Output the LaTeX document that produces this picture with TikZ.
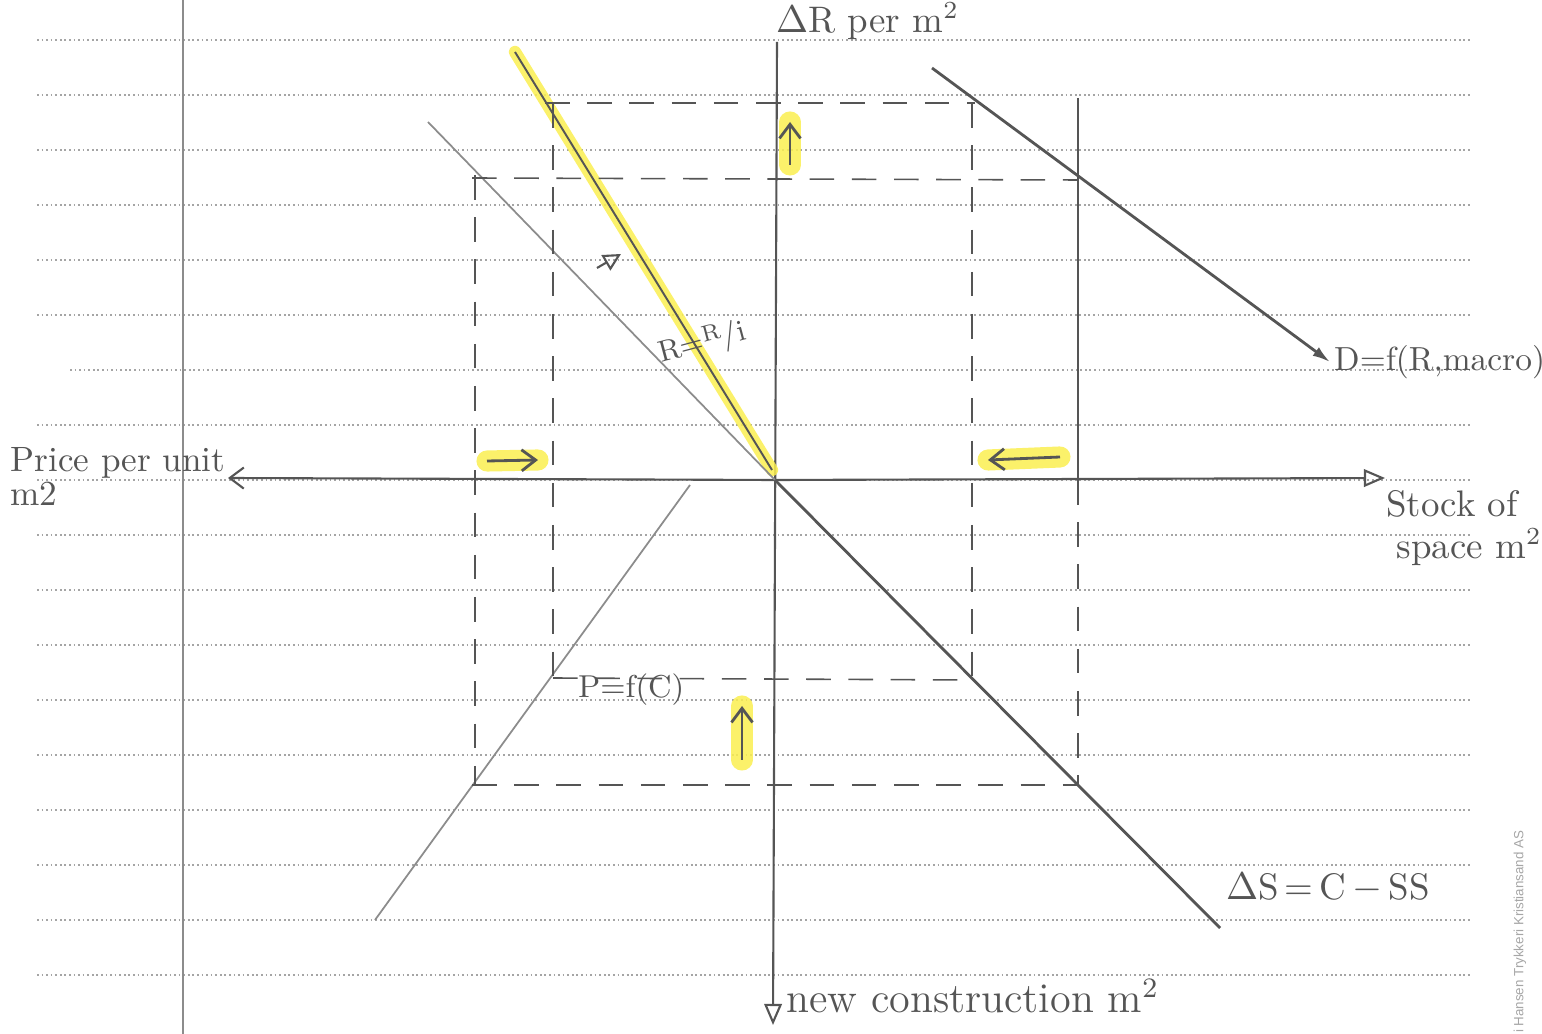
\documentclass[tikz,border=0pt]{standalone}
\usepackage{fontspec}
\newfontfamily\printfont{Liberation Sans}
\usetikzlibrary{arrows.meta}
\definecolor{pencil}{RGB}{85,85,85}
\definecolor{softpencil}{RGB}{140,140,140}
\definecolor{marker}{RGB}{250,238,80}
\definecolor{ruling}{RGB}{165,165,165}

\begin{document}
\begin{tikzpicture}[x=0.01cm, y=-0.01cm, >=Stealth,
    ruled/.style={ruling, line width=0.4pt, dash pattern=on 0.5pt off 0.8pt},
    axis/.style={pencil, line width=0.6pt},
    curve/.style={pencil, line width=0.8pt},
    faint/.style={softpencil, line width=0.5pt},
    guide/.style={pencil, line width=0.45pt, dash pattern=on 7pt off 5pt},
    glow/.style={marker, line width=3.5pt, line cap=round, opacity=0.85},
    hand/.style={pencil, font=\fontsize{10.5}{12}\selectfont, inner sep=1pt},
    shiftarrow/.style={pencil, line width=0.8pt, -{Straight Barb[length=4pt,width=6pt]}}]

    \useasboundingbox (0,0) rectangle (1542,1034);

    % Notebook paper
    \foreach \y in {40,95,150,205,260,315,425,480,535,590,645,700,755,810,865,920,975}
        \draw[ruled] (37,\y) -- (1470,\y);
    \draw[ruled] (70,370) -- (1470,370);
    \draw[softpencil, line width=0.5pt] (183,0) -- (183,1034);
    \node[rotate=90, anchor=east, inner sep=0pt, font=\printfont\fontsize{3.8}{4.5}\selectfont, black!35] (printer) at (1520,830) {i Hansen Trykkeri Kristiansand AS};

    % Axes
    \coordinate (o) at (775,480);
    \coordinate (ytop) at (777,42);
    \coordinate (ybot) at (773,1025);
    \coordinate (xleft) at (228,478);
    \coordinate (xright) at (1385,478);
    \draw[axis, -{Triangle[open, length=6pt, width=5pt]}] (ytop) -- (ybot);
    \draw[axis, -{Triangle[open, length=6pt, width=5pt]}] (o) -- (xright);
    \draw[axis, -{Straight Barb[length=4pt, width=6pt]}] (o) -- (xleft);

    \node[hand, font=\fontsize{10}{12}\selectfont, anchor=base west, inner sep=0pt] (pricelbl) at (10,472) {Price per unit};
    \node[hand, font=\fontsize{10}{12}\selectfont, anchor=base west, inner sep=0pt] (pricelbl2) at (10,506) {m2};
    \node[hand, anchor=south west] (rentlbl) at (772,44) {$\Delta$R per m$^2$};
    \node[hand, align=left, anchor=north west] (stocklbl) at (1382,486) {Stock of\\\hspace{3pt}space m$^2$};
    \node[hand, font=\fontsize{12}{14}\selectfont, anchor=west] (buildlbl) at (782,996) {new construction m$^2$};

    % Asset market: P = R/i
    \coordinate (pold) at (428,122);
    \coordinate (pnew) at (515,52);
    \coordinate (pnewend) at (772,470);
    \draw[glow] (pnew) -- (pnewend);
    \draw[faint] (pold) -- (o);
    \draw[curve, line width=0.55pt] (pnew) -- (pnewend);
    \node[hand, font=\fontsize{8.5}{10}\selectfont, rotate=15] (caplbl) at (702,343) {R=\raisebox{2.5pt}{\fontsize{6.5}{7}\selectfont R}/i};
    \coordinate (rota) at (597,268);
    \coordinate (rotb) at (621,254);
    \draw[pencil, line width=0.6pt, -{Triangle[open, length=5pt, width=5pt]}] (rota) -- (rotb);

    % Construction: P = f(C)
    \coordinate (cbot) at (375,920);
    \coordinate (ctop) at (690,485);
    \draw[faint] (cbot) -- (ctop);
    \node[hand, font=\fontsize{9}{11}\selectfont, anchor=west] (conlbl) at (574,690) {P=f(C)};

    % Stock adjustment: dS = C - SS
    \coordinate (send) at (1220,928);
    \draw[curve] (o) -- (send);
    \node[hand, anchor=west] (stocklaw) at (1222,888) {$\Delta$S\,=\,C\,$-$\,SS};

    % Space market demand
    \node[hand, font=\fontsize{9.5}{11}\selectfont, anchor=west] (demlbl) at (1330,362) {D=f(R,macro)};
    \coordinate (dtop) at (932,68);
    \draw[curve, -{Latex[length=5pt, width=3pt]}] (dtop) -- (demlbl.west);

    % Dashed rectangles
    \coordinate (a1) at (545,103);  \coordinate (a2) at (975,103);
    \coordinate (b1) at (472,178);  \coordinate (b2) at (1078,180);
    \coordinate (c1) at (553,678);  \coordinate (c2) at (972,680);
    \coordinate (d1) at (472,785);  \coordinate (d2) at (1078,785);
    \coordinate (e1) at (1078,98);  \coordinate (e2) at (1078,480);
    \draw[guide] (a1) -- (a2);
    \draw[guide] (b1) -- (b2);
    \draw[guide] (c1) -- (c2);
    \draw[guide] (d1) -- (d2);
    \draw[guide] (475,175) -- (475,785);
    \draw[guide] (553,103) -- (553,678);
    \draw[guide] (972,103) -- (972,680);
    \draw[guide] (e2) -- (d2);
    \draw[pencil, line width=0.6pt] (e1) -- (e2);

    % Highlighted shift arrows
    \foreach \s/\e in {{(790,165)}/{(790,122)}, {(487,461)}/{(538,460)}, {(1060,457)}/{(988,460)}, {(742,760)}/{(742,706)}} {
        \draw[glow, line width=6pt] \s -- \e;
        \draw[shiftarrow] \s -- \e;
    }

\end{tikzpicture}
\end{document}
